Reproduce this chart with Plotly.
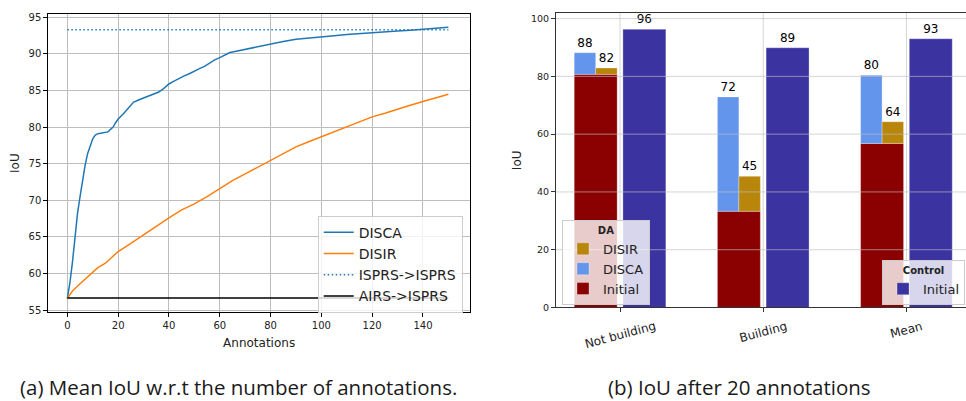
import plotly.graph_objects as go

# ---------------- data: left chart ----------------
disca_x = [0, 1, 2, 3, 4, 5, 6, 7, 8, 9, 10, 11, 12, 13, 14, 15, 16, 17, 18, 19, 20,
           22, 24, 26, 28, 30, 32, 34, 36, 38, 40, 42, 44, 46, 48, 50, 52, 54, 56, 58,
           60, 62, 64, 66, 68, 70, 75, 80, 85, 90, 95, 100, 105, 110, 115, 120, 125,
           130, 135, 140, 145, 150]
disca_y = [56.6, 58.7, 61.5, 64.8, 68.2, 70.5, 72.8, 74.8, 76.4, 77.5, 78.4, 78.9, 79.1,
           79.15, 79.2, 79.25, 79.35, 79.7, 80.0, 80.6, 81.1, 81.8, 82.6, 83.4, 83.7,
           84.0, 84.2, 84.5, 84.8, 85.3, 85.9, 86.3, 86.7, 87.0, 87.3, 87.7, 88.0, 88.3,
           88.8, 89.2, 89.5, 89.9, 90.2, 90.35, 90.5, 90.65, 91.0, 91.35, 91.7, 92.0,
           92.2, 92.35, 92.5, 92.65, 92.8, 92.95, 93.05, 93.15, 93.25, 93.4, 93.5, 93.65]
disir_x = [0, 2, 5, 8, 10, 12, 15, 18, 20, 25, 30, 35, 40, 45, 50, 55, 60, 65, 70, 75,
           80, 85, 90, 95, 100, 105, 110, 115, 120, 125, 130, 135, 140, 145, 150]
disir_y = [56.6, 57.6, 58.6, 59.5, 60.1, 60.8, 61.4, 62.4, 63.0, 64.1, 65.3, 66.5, 67.6,
           68.7, 69.5, 70.5, 71.6, 72.7, 73.6, 74.5, 75.4, 76.3, 77.3, 78.0, 78.7, 79.3,
           80.0, 80.7, 81.4, 81.9, 82.5, 83.0, 83.5, 84.0, 84.5]
ref_x = [0, 150]
isprs_y = [93.3, 93.3]
airs_y = [56.65, 56.65]
left_xticks = [0, 20, 40, 60, 80, 100, 120, 140]
left_yticks = [55, 60, 65, 70, 75, 80, 85, 90, 95]

# ---------------- data: right chart ----------------
categories = ["Not building", "Building", "Mean"]
cat_pos = [0, 1, 2]
initial_vals = [80.7, 33.3, 56.8]
disca_vals = [88.2, 72.9, 80.4]
disir_vals = [82.9, 45.4, 64.3]
control_vals = [96.3, 89.9, 93.0]
right_yticks = [0, 20, 40, 60, 80, 100]

FONT = "DejaVu Sans"
fig = go.Figure()

# left traces
fig.add_trace(go.Scatter(x=disca_x, y=disca_y, mode="lines", name="DISCA",
                         line=dict(color="#1f77b4", width=1.5), xaxis="x", yaxis="y",
                         legend="legend"))
fig.add_trace(go.Scatter(x=disir_x, y=disir_y, mode="lines", name="DISIR",
                         line=dict(color="#ff7f0e", width=1.5), xaxis="x", yaxis="y",
                         legend="legend"))
fig.add_trace(go.Scatter(x=ref_x, y=isprs_y, mode="lines", name="ISPRS->ISPRS",
                         line=dict(color="#1f77b4", width=1.5, dash="1.5px,2.5px"), xaxis="x",
                         yaxis="y", legend="legend"))
fig.add_trace(go.Scatter(x=ref_x, y=airs_y, mode="lines", name="AIRS->ISPRS",
                         line=dict(color="black", width=1.5), xaxis="x", yaxis="y",
                         legend="legend"))

# right traces
edge = dict(color="rgba(255,255,255,0.5)", width=0.6)
fig.add_trace(go.Bar(x=cat_pos, y=initial_vals, name="Initial", marker=dict(color="#8B0000", line=edge),
                     offset=-0.32, width=0.3, xaxis="x2", yaxis="y2", legend="legend2",
                     legendrank=3))
fig.add_trace(go.Bar(x=cat_pos, y=[d - i for d, i in zip(disca_vals, initial_vals)],
                     base=initial_vals, name="DISCA", marker=dict(color="#6495ED", line=edge),
                     offset=-0.32, width=0.15, xaxis="x2", yaxis="y2", legend="legend2",
                     legendrank=2, text=[str(int(v)) for v in disca_vals],
                     textposition="outside", cliponaxis=False, constraintext="none",
                     textfont=dict(family=FONT, size=12, color="black")))
fig.add_trace(go.Bar(x=cat_pos, y=[d - i for d, i in zip(disir_vals, initial_vals)],
                     base=initial_vals, name="DISIR", marker=dict(color="#B8860B", line=edge),
                     offset=-0.17, width=0.15, xaxis="x2", yaxis="y2", legend="legend2",
                     legendrank=1, text=[str(int(v)) for v in disir_vals],
                     textposition="outside", cliponaxis=False, constraintext="none",
                     textfont=dict(family=FONT, size=12, color="black")))
fig.add_trace(go.Bar(x=cat_pos, y=control_vals, name="Initial",
                     marker=dict(color="#3B33A0", line=edge),
                     offset=0.02, width=0.3, xaxis="x2", yaxis="y2", legend="legend3",
                     text=[str(int(v)) for v in control_vals],
                     textposition="outside", cliponaxis=False, constraintext="none",
                     textfont=dict(family=FONT, size=12, color="black")))

# grid drawn above the bars (right chart)
shapes = []
for v in right_yticks[1:]:
    shapes.append(dict(type="line", xref="x2 domain", yref="y2", x0=0, x1=1, y0=v, y1=v,
                       line=dict(color="rgba(190,190,190,0.65)", width=1), layer="above"))
for p in cat_pos:
    shapes.append(dict(type="line", xref="x2", yref="y2 domain", x0=p, x1=p, y0=0, y1=1,
                       line=dict(color="rgba(190,190,190,0.65)", width=1), layer="above"))

annotations = []
for p, c in zip(cat_pos, categories):
    annotations.append(dict(x=p, y=0.202, xref="x2", yref="paper", text=c, textangle=-15,
                            showarrow=False, xanchor="center", yanchor="top",
                            font=dict(family=FONT, size=12, color="#222")))
annotations.append(dict(x=0.247, y=0.024, xref="paper", yref="paper",
                        text="(a) Mean IoU w.r.t the number of annotations.", showarrow=False,
                        xanchor="center", yanchor="middle",
                        font=dict(family="Open Sans", size=20.5, color="#1a1a1a")))
annotations.append(dict(x=0.766, y=0.024, xref="paper", yref="paper",
                        text="(b) IoU after 20 annotations", showarrow=False,
                        xanchor="center", yanchor="middle",
                        font=dict(family="Open Sans", size=20.5, color="#1a1a1a")))

tickfont = dict(family=FONT, size=10, color="#222")
fig.update_layout(
    width=966, height=401, margin=dict(l=0, r=0, t=0, b=0),
    paper_bgcolor="white", plot_bgcolor="white", barmode="overlay",
    showlegend=True, hovermode=False,
    xaxis=dict(domain=[0.05, 0.4865], range=[-7.5, 158.5], tickvals=left_xticks,
               ticks="outside", ticklen=4, tickcolor="black", showline=True, mirror=True,
               linecolor="black", linewidth=1, showgrid=True, gridcolor="#bdbdbd",
               zeroline=False, tickfont=tickfont, anchor="y",
               title=dict(text="Annotations", font=dict(family=FONT, size=12, color="#222"),
                          standoff=8)),
    yaxis=dict(domain=[0.2145, 0.9708], range=[54.77, 95.4], tickvals=left_yticks,
               ticks="outside", ticklen=4, tickcolor="black", showline=True, mirror=True,
               linecolor="black", linewidth=1, showgrid=True, gridcolor="#bdbdbd",
               zeroline=False, tickfont=tickfont, anchor="x",
               title=dict(text="IoU", font=dict(family=FONT, size=12, color="#222"),
                          standoff=6)),
    xaxis2=dict(domain=[0.5756, 1.0], range=[-0.447, 2.416], tickvals=cat_pos,
                showticklabels=False, ticks="outside", ticklen=4, tickcolor="#333",
                showline=True, mirror=True, linecolor="#333", linewidth=1, showgrid=False,
                zeroline=False, anchor="y2"),
    yaxis2=dict(domain=[0.2252, 0.9743], range=[0, 101.9], tickvals=right_yticks,
                ticks="outside", ticklen=4, tickcolor="#333", showline=True, mirror=False,
                linecolor="#333", linewidth=1, showgrid=False, zeroline=False,
                tickfont=dict(family=FONT, size=9.5, color="#222"), anchor="x2",
                title=dict(text="IoU", font=dict(family=FONT, size=12, color="#222"),
                           standoff=6)),
    legend=dict(x=0.479, xanchor="right", y=0.212, yanchor="bottom",
                bgcolor="rgba(255,255,255,0.8)", bordercolor="#cccccc", borderwidth=1,
                font=dict(family=FONT, size=14, color="#222"), tracegroupgap=0),
    legend2=dict(x=0.5818, xanchor="left", y=0.232, yanchor="bottom",
                 bgcolor="rgba(255,255,255,0.8)", bordercolor="#cccccc", borderwidth=1,
                 font=dict(family=FONT, size=13, color="#222"), tracegroupgap=0,
                 title=dict(text="<b>DA</b>", side="top center",
                            font=dict(family=FONT, size=10, color="#222"))),
    legend3=dict(x=0.999, xanchor="right", y=0.232, yanchor="bottom",
                 bgcolor="rgba(255,255,255,0.8)", bordercolor="#cccccc", borderwidth=1,
                 font=dict(family=FONT, size=13, color="#222"), tracegroupgap=0,
                 title=dict(text="<b>Control</b>", side="top center",
                            font=dict(family=FONT, size=10, color="#222"))),
    shapes=shapes, annotations=annotations,
)

fig.write_html("out.html")
